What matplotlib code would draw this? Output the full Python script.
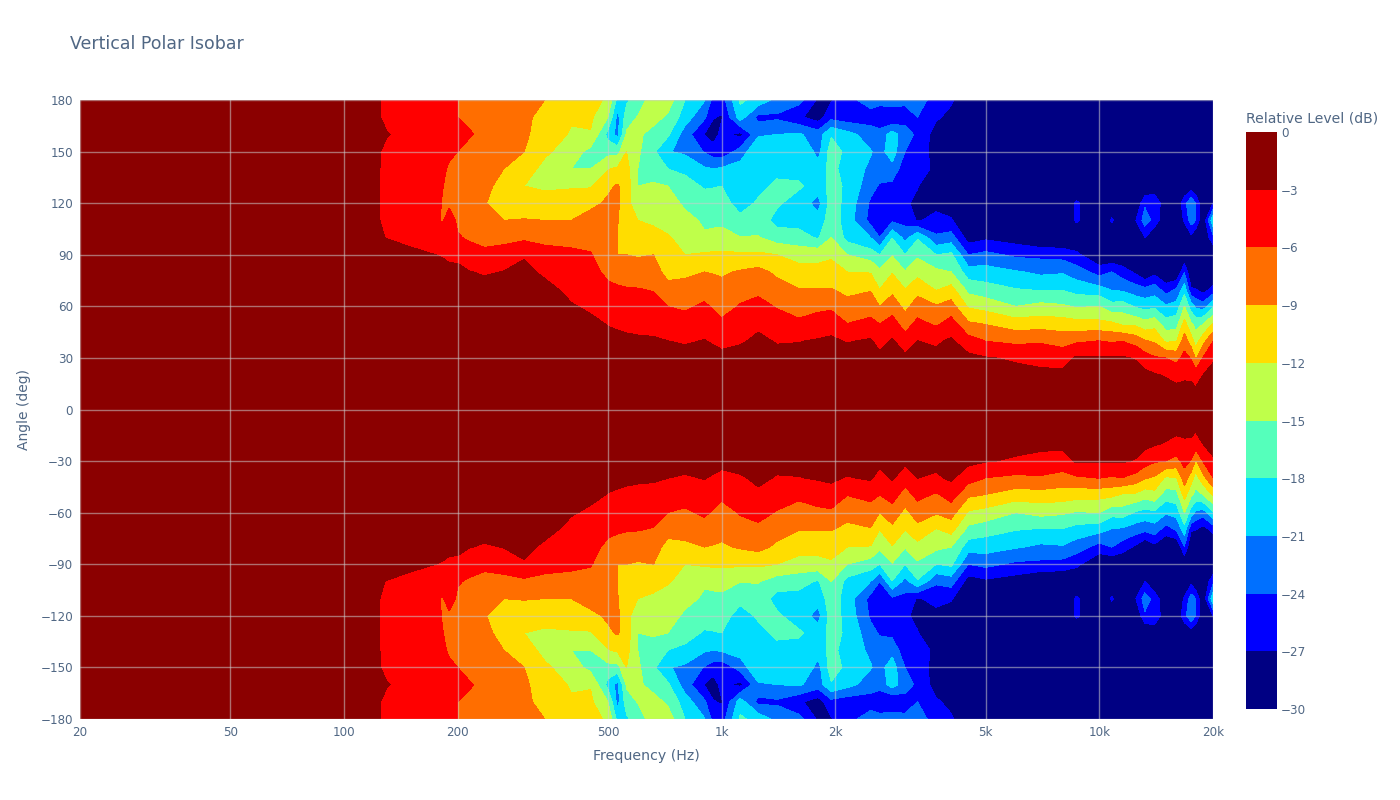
import numpy as np
import matplotlib
matplotlib.use("Agg")
import matplotlib.pyplot as plt

plt.rcParams['font.family'] = ['DejaVu Sans']

angles = [0, 20, 30, 40, 50, 60, 70, 80, 90, 100, 110, 120, 130, 140, 150, 160, 170, 180]

# one row per frequency, one value per angle in `angles` (dB), upper half; the lower half mirrors it
freqs = [20, 100, 120, 130, 150, 175, 182, 190, 200, 215, 235, 265, 300, 340, 400, 450, 500, 530, 560, 600,
         660, 720, 800, 900, 950, 1000, 1120, 1250, 1400, 1600, 1800, 1950, 2150, 2480, 2620, 2830, 3060, 3300,
         3700, 4050, 4500, 5000, 6000, 7000, 8000, 8700, 10000, 10800, 11500, 12500, 13200, 14000, 15000,
         16000, 16800, 17500, 18000, 18800, 20000]

levels_db = [
    [-.5, -1, -1, -1, -1, -1, -1, -1, -1, -1, -1, -1, -1, -1, -1, -1, -1, -1],
    [-.5, -1, -1, -1, -1, -1, -1, -1, -1, -1, -1, -1, -1, -1, -1, -1, -1, -1],
    [-.5, -1, -1, -1, -1, -1, -1, -1, -1.5, -2.5, -2.5, -2.5, -2.5, -2.5, -2.5, -2.4, -2.5, -2.5],
    [-.5, -1, -1, -1, -1, -1, -1, -1.2, -1.7, -3.1, -3.6, -3.6, -3.6, -3.6, -3.5, -2.9, -3.5, -3.5],
    [-.5, -1, -1, -1, -1, -1, -1, -1.5, -2.5, -3.6, -4.5, -4.5, -4.5, -4.5, -4.5, -3.6, -4.5, -4.5],
    [-.5, -1, -1, -1, -1, -1, -1.2, -1.8, -3, -4, -5.6, -5.2, -5.2, -5, -4.9, -4.5, -4.8, -4.8],
    [-.5, -1, -1, -1, -1, -1, -1.3, -2, -3.2, -4.4, -6.2, -6.1, -5.9, -5.7, -5.4, -4.8, -5, -5],
    [-.5, -1, -1, -1, -1, -1, -1.5, -2.4, -3.5, -4.5, -5, -6.4, -6.5, -6.2, -5.7, -5.2, -5.2, -5.2],
    [-.5, -1, -1, -1, -1, -1.2, -1.7, -2.5, -3.5, -5.8, -6.4, -7, -7, -6.8, -6, -5.5, -6, -6],
    [-.5, -1, -1, -1, -1, -1.2, -1.8, -2.9, -5, -6.3, -7, -7.8, -7.8, -7.5, -7, -5.7, -6.6, -6.8],
    [-.5, -1, -1, -1, -1, -1.3, -2, -3.3, -5.4, -6.8, -7.8, -8.8, -8.4, -8, -7.5, -6.8, -7.3, -7.5],
    [-.5, -1, -1, -1, -1, -1.3, -1.8, -2.9, -4.6, -7, -9, -10.5, -9.8, -9, -8.3, -8, -8, -8],
    [-.5, -1, -1, -1, -1, -1.2, -1.6, -2.2, -3.3, -6.6, -8.8, -11, -12, -10.8, -9, -8.5, -8.5, -8.3],
    [-.5, -1, -1, -1, -1.2, -1.5, -2, -3.6, -5, -6.8, -9, -11, -12.4, -12.8, -11.5, -10.5, -9.8, -9],
    [-.5, -1, -1, -1.2, -1.8, -2.7, -4, -5, -5.6, -6.6, -9, -11, -12.2, -15, -13.5, -12.3, -11.7, -10.8],
    [-.5, -1, -1, -1.5, -2.2, -3.6, -4.6, -5.2, -5.8, -7, -8, -9.6, -12.3, -15, -16, -12.2, -11.5, -11],
    [-.5, -1, -1.3, -1.9, -3.2, -4, -5.4, -6.6, -7.8, -8.2, -8.4, -8.6, -9.5, -12.2, -16, -19, -15, -12.5],
    [-.5, -1, -1.5, -2.2, -3.5, -4.7, -5.6, -7.3, -9, -9, -8.8, -8.3, -8.7, -11.5, -16, -22, -22, -19],
    [-.5, -1, -1.6, -2.5, -3.6, -5, -5.8, -7.5, -9, -12.2, -11.8, -11.5, -10.5, -11, -12, -14.5, -16.5, -18.5],
    [-.5, -1, -1.7, -2.6, -3.8, -5.2, -5.9, -7.5, -9.3, -10.3, -12, -13, -15, -15, -14.5, -14.5, -14.8, -16.5],
    [-.5, -1, -1.8, -2.8, -3.6, -4.8, -6.2, -7.8, -9, -11, -12.5, -13.5, -14.6, -16.5, -17.5, -16, -14, -13.5],
    [-.5, -1, -2, -3, -4.5, -6, -8, -10, -11, -11.8, -12.8, -13.6, -15, -18, -20.8, -17.5, -15.5, -13.5],
    [-.5, -1, -2, -3.3, -5, -6.4, -8, -9.6, -12, -12.8, -14, -15.6, -17, -18.6, -21.6, -22.5, -19.5, -18],
    [-.5, -1, -1.8, -2.9, -4.2, -5.6, -7, -9, -11.6, -14.6, -15.5, -16.7, -18.3, -20.6, -24.2, -27.1, -23.5, -20.8],
    [-.5, -1.1, -2, -3.3, -4.8, -6.3, -7.6, -9.2, -11.5, -14.4, -15.5, -16.6, -18.2, -21, -25.5, -28.5, -26.8, -25],
    [-.5, -1.2, -2.2, -3.8, -5.5, -7, -8.1, -9.4, -11.5, -14.2, -15.5, -16.6, -18, -20.6, -26, -26, -27.3, -25.5],
    [-.5, -1.1, -2, -3.3, -4.7, -5.8, -7, -8.7, -11.5, -14.9, -17, -19.5, -19.8, -19.5, -22.8, -27.8, -19.5, -17.5],
    [-.5, -1, -1.7, -2.5, -3.5, -5.2, -6.6, -8.1, -11.5, -14.8, -16.5, -17.5, -19, -18.8, -18, -21.5, -25, -19],
    [-.5, -1, -2.2, -3.2, -4.7, -6.2, -7.8, -9.6, -12, -16.5, -19, -17.5, -17.3, -19, -19.5, -21, -24.5, -22],
    [-.5, -1, -2.2, -3.1, -5.5, -7.1, -8.9, -11, -13, -17, -19, -19.5, -17.5, -19.2, -18, -20.6, -26.5, -23],
    [-.5, -1, -1.8, -2.8, -4.5, -6.8, -8.9, -11, -13, -18.3, -20, -22, -19.6, -19.8, -22, -22.5, -28.5, -27.5],
    [-.5, -1, -1.7, -2.6, -4, -6.6, -8.9, -10.7, -12.5, -15, -16.2, -16.5, -17, -17, -16.5, -18.3, -25, -27.3],
    [-.5, -1, -1.7, -3.2, -6, -8, -9.8, -12, -15, -19, -19.5, -19, -18.5, -19.5, -18.8, -20, -25.7, -25],
    [-.5, -1, -1.6, -2.7, -5, -7.7, -9.2, -12.2, -16.5, -21, -25, -24.5, -23, -21.5, -20.8, -22.5, -25.5, -22.5],
    [-.5, -1, -2.2, -4.1, -6.1, -9, -12, -14.3, -18, -24, -25.5, -25.5, -24.3, -22.5, -22, -23, -26, -23],
    [-.5, -1, -1.6, -2.7, -4.8, -7.4, -9.8, -12.2, -15.2, -18.1, -24.5, -25.6, -24.8, -22, -19.5, -19.5, -27.1, -22],
    [-.5, -1.2, -2.4, -4.6, -7.4, -9.8, -12, -14.8, -18, -22, -25, -26.5, -26, -26, -24, -23, -25, -23.5],
    [-.5, -1, -1.8, -3, -5.2, -7.6, -10, -13, -15.5, -18.3, -27.3, -27.8, -26.8, -25.5, -25, -24.5, -24, -22.5],
    [-.5, -1.2, -2.3, -3.4, -6.5, -8.7, -12.3, -14.3, -18, -23.5, -26, -28, -30, -27.8, -28.5, -28.5, -26.5, -25.5],
    [-.5, -1, -1.7, -2.6, -4.8, -7.8, -11, -15, -17.4, -22.6, -26.7, -28.5, -30, -30, -30, -30, -28, -26.5],
    [-.5, -1.2, -2.3, -4.8, -8.6, -12.4, -16, -19.6, -24, -28.5, -30, -30, -30, -30, -30, -30, -30, -30],
    [-.5, -1.5, -2.8, -6.1, -9.2, -13.1, -16.9, -19.7, -23.2, -27.6, -27.5, -30, -30, -30, -30, -30, -30, -30],
    [-.5, -2, -3.4, -6.7, -10.6, -15, -17.9, -20.7, -24.6, -28.5, -30, -30, -30, -30, -30, -30, -30, -30],
    [-.5, -2.3, -3.9, -6.4, -10.4, -14.1, -18.4, -21.6, -24.8, -30, -30, -30, -30, -30, -30, -30, -30, -30],
    [-.5, -2.3, -4.2, -7.2, -10.6, -14.6, -18.3, -21.3, -25.2, -30, -30, -30, -30, -30, -30, -30, -30, -30],
    [-.5, -1.7, -2.6, -6.5, -11, -15.3, -19.2, -22.6, -26.3, -30, -26.5, -26.5, -30, -30, -30, -30, -30, -30],
    [-.5, -1.5, -2.7, -6, -11.2, -15, -20, -25.2, -30, -30, -30, -30, -30, -30, -30, -30, -30, -30],
    [-.5, -1.5, -2.7, -6.4, -11.5, -17, -21.3, -24, -30, -30, -26.5, -30, -30, -30, -30, -30, -30, -30],
    [-.5, -1.5, -2.7, -6.1, -12.6, -16.5, -21.6, -25.5, -30, -30, -30, -30, -30, -30, -30, -30, -30, -30],
    [-.5, -1.8, -3.2, -7.3, -12.8, -18.4, -22.7, -27.6, -30, -30, -27, -30, -30, -30, -30, -30, -30, -30],
    [-.5, -2.2, -4.6, -8.8, -14, -19, -23.3, -30, -30, -27, -22.5, -24.5, -30, -30, -30, -30, -30, -30],
    [-.5, -2.7, -5.7, -9.5, -13.1, -18.7, -22.5, -28, -30, -30, -25, -24, -30, -30, -30, -30, -30, -30],
    [-.5, -3.2, -6, -12.6, -16.7, -20.6, -25.5, -30, -30, -30, -30, -30, -30, -30, -30, -30, -30, -30],
    [-.5, -3.8, -7, -12.2, -16.3, -19.8, -23.8, -30, -30, -30, -30, -30, -30, -30, -30, -30, -30, -30],
    [-.5, -3.5, -5, -7.5, -10.9, -15, -19.3, -24.2, -30, -30, -26.5, -25, -30, -30, -30, -30, -30, -30],
    [-.5, -3.6, -6.2, -10.6, -14.6, -19.5, -26.7, -30, -30, -28, -22.5, -21.5, -29, -30, -30, -30, -30, -30],
    [-.5, -4.3, -9.4, -13.5, -16, -21.6, -26.9, -30, -30, -30, -24, -24, -30, -30, -30, -30, -30, -30],
    [-.5, -3, -5.9, -10.2, -15.2, -22.5, -28.5, -30, -30, -30, -30, -30, -30, -30, -30, -30, -30, -30],
    [-.5, -2, -3.4, -6.1, -11.8, -18.6, -26.2, -30, -30, -25, -18.5, -27, -30, -30, -30, -30, -30, -30],
]

contour_levels = [-30, -27, -24, -21, -18, -15, -12, -9, -6, -3, 0]
band_colors = ['#000083', '#0000ff', '#0070ff', '#00ddff', '#55ffbb',
               '#bfff4a', '#ffdd00', '#ff6e00', '#ff0000', '#8b0000']
x_ticks = [20, 50, 100, 200, 500, 1000, 2000, 5000, 10000, 20000]
x_labels = ['20', '50', '100', '200', '500', '1k', '2k', '5k', '10k', '20k']
y_ticks = [-180, -150, -120, -90, -60, -30, 0, 30, 60, 90, 120, 150, 180]
cb_ticks = [0, -3, -6, -9, -12, -15, -18, -21, -24, -27, -30]

TXT = '#506784'
W, H = 1400, 800


def box(l, t, r, b):
    return [l / W, 1 - b / H, (r - l) / W, (b - t) / H]


fig = plt.figure(figsize=(14, 8), dpi=100, facecolor='white')
ax = fig.add_axes(box(80, 100, 1213, 719))

upper = np.array(levels_db, dtype=float).T
full_z = np.vstack([upper[:0:-1], upper])
full_a = np.concatenate([-np.array(angles[:0:-1]), np.array(angles)])

cf = ax.contourf(freqs, full_a, full_z, levels=contour_levels, colors=band_colors, antialiased=False)
ax.set_xscale('log')
ax.set_xlim(20, 20000)
ax.set_ylim(-180, 180)
ax.set_xticks(x_ticks)
ax.set_xticklabels(x_labels)
ax.minorticks_off()
ax.set_yticks(y_ticks)
ax.set_yticklabels([str(v).replace('-', '\u2212') for v in y_ticks])
ax.tick_params(length=0, pad=5, labelsize=8.6, labelcolor=TXT)
ax.grid(True, color='#cccccc', lw=1, alpha=0.55, zorder=5)
ax.set_axisbelow(False)
for s in ax.spines.values():
    s.set_visible(False)
ax.set_xlabel('Frequency (Hz)', fontsize=10.2, color=TXT, labelpad=7)
ax.set_ylabel('Angle (deg)', fontsize=10, color=TXT, labelpad=7)

fig.text(70 / W, 1 - 44 / H, 'Vertical Polar Isobar', fontsize=12.5, color=TXT, va='center', ha='left')

cax = fig.add_axes(box(1246, 132, 1277, 709))
cb = fig.colorbar(cf, cax=cax, spacing='proportional')
cb.outline.set_visible(False)
cb.set_ticks(cb_ticks)
cb.set_ticklabels([str(v).replace('-', '\u2212') for v in cb_ticks])
cb.ax.tick_params(length=0, pad=3, labelsize=8.6, labelcolor=TXT)
cb.ax.minorticks_off()
fig.text(1246 / W, 1 - 119 / H, 'Relative Level (dB)', fontsize=10.1, color=TXT, va='center', ha='left')

fig.savefig('out.png', dpi=100)
